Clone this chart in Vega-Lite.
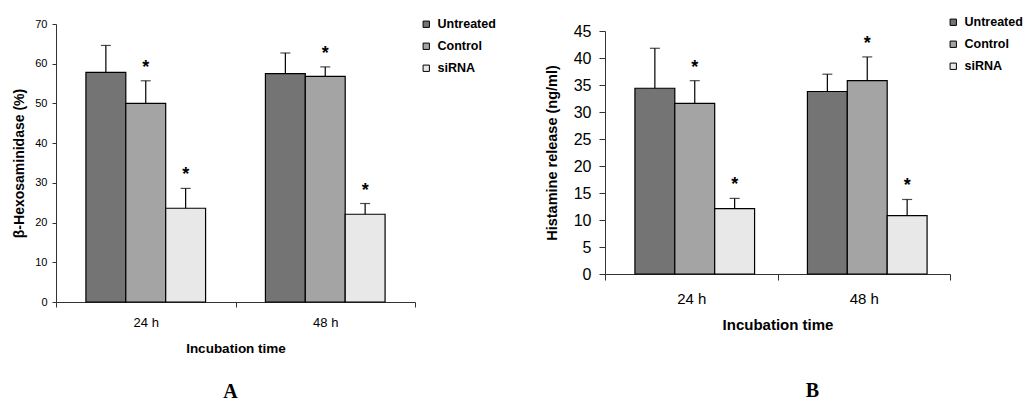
{
  "$schema": "https://vega.github.io/schema/vega-lite/v6.json",
  "padding": {"left": 12, "top": 16, "right": 0, "bottom": 0},
  "background": "white",
  "datasets": {
    "hexA": [
      {"time": "24 h", "group": "Untreated", "mean": 57.8, "hi": 64.6, "sig": false},
      {"time": "24 h", "group": "Control", "mean": 50.0, "hi": 55.7, "sig": true},
      {"time": "24 h", "group": "siRNA", "mean": 23.6, "hi": 28.6, "sig": true},
      {"time": "48 h", "group": "Untreated", "mean": 57.5, "hi": 62.7, "sig": false},
      {"time": "48 h", "group": "Control", "mean": 56.8, "hi": 59.2, "sig": true},
      {"time": "48 h", "group": "siRNA", "mean": 22.1, "hi": 24.8, "sig": true}
    ],
    "histB": [
      {"time": "24 h", "group": "Untreated", "mean": 34.4, "hi": 41.8, "sig": false},
      {"time": "24 h", "group": "Control", "mean": 31.6, "hi": 35.8, "sig": true},
      {"time": "24 h", "group": "siRNA", "mean": 12.1, "hi": 14.0, "sig": true},
      {"time": "48 h", "group": "Untreated", "mean": 33.8, "hi": 37.0, "sig": false},
      {"time": "48 h", "group": "Control", "mean": 35.8, "hi": 40.2, "sig": true},
      {"time": "48 h", "group": "siRNA", "mean": 10.8, "hi": 13.8, "sig": true}
    ]
  },
  "hconcat": [
    {
      "width": 359,
      "height": 278,
      "data": {"name": "hexA"},
      "title": {"text": "A", "orient": "bottom", "frame": "group", "font": "Liberation Serif", "fontSize": 20, "fontWeight": "bold", "offset": 27, "dx": -5, "color": "black"},
      "encoding": {
        "x": {
          "field": "time", "type": "nominal",
          "scale": {"paddingInner": 0, "paddingOuter": 0},
          "axis": {"title": "Incubation time", "labelAngle": 0, "tickBand": "extent", "tickSize": 5, "labelPadding": 9, "labelFontSize": 13, "labelColor": "black", "titleFontSize": 13.5, "titleFontWeight": "bold", "titlePadding": 12, "titleColor": "black", "domainColor": "#333", "tickColor": "#333"}
        },
        "xOffset": {"field": "group", "type": "nominal", "sort": ["Untreated", "Control", "siRNA"], "scale": {"paddingInner": 0, "paddingOuter": 0.75}}
      },
      "layer": [
        {
          "mark": {"type": "bar", "stroke": "black", "strokeWidth": 1.2},
          "encoding": {
            "y": {"field": "mean", "type": "quantitative", "scale": {"domain": [0, 70]},
              "axis": {"title": "β-Hexosaminidase (%)", "values": [0, 10, 20, 30, 40, 50, 60, 70], "labelOverlap": false, "grid": false, "tickSize": 4, "labelPadding": 5, "labelFontSize": 11, "labelColor": "black", "titleFontSize": 14, "titleFontWeight": "bold", "titleColor": "black", "titlePadding": 8, "domainColor": "#333", "tickColor": "#333"}},
            "fill": {"field": "group", "type": "nominal",
              "scale": {"domain": ["Untreated", "Control", "siRNA"], "range": ["#747474", "#a4a4a4", "#e8e8e8"]},
              "legend": {"title": null, "orient": "none", "legendX": 364, "legendY": -6, "padding": 0, "symbolType": "square", "symbolSize": 40, "symbolStrokeColor": "black", "symbolStrokeWidth": 1, "labelFontSize": 12.5, "labelFontWeight": "bold", "labelColor": "black", "labelOffset": 5, "rowPadding": 9}}
          }
        },
        {
          "mark": {"type": "rule", "color": "black", "strokeWidth": 1.2},
          "encoding": {"y": {"field": "mean", "type": "quantitative",
            "axis": {"title": "β-Hexosaminidase (%)", "values": [0, 10, 20, 30, 40, 50, 60, 70], "labelOverlap": false, "grid": false, "tickSize": 4, "labelPadding": 5, "labelFontSize": 11, "labelColor": "black", "titleFontSize": 14, "titleFontWeight": "bold", "titleColor": "black", "titlePadding": 8, "domainColor": "#333", "tickColor": "#333"}}, "y2": {"field": "hi"}}
        },
        {
          "mark": {"type": "tick", "color": "black", "thickness": 1.2, "size": 10},
          "encoding": {"y": {"field": "hi", "type": "quantitative",
            "axis": {"title": "β-Hexosaminidase (%)", "values": [0, 10, 20, 30, 40, 50, 60, 70], "labelOverlap": false, "grid": false, "tickSize": 4, "labelPadding": 5, "labelFontSize": 11, "labelColor": "black", "titleFontSize": 14, "titleFontWeight": "bold", "titleColor": "black", "titlePadding": 8, "domainColor": "#333", "tickColor": "#333"}}}
        },
        {
          "transform": [{"filter": "datum.sig"}],
          "mark": {"type": "text", "text": "*", "fontSize": 18, "fontWeight": "bold", "baseline": "alphabetic", "dy": -8, "color": "black"},
          "encoding": {"y": {"field": "hi", "type": "quantitative",
            "axis": {"title": "β-Hexosaminidase (%)", "values": [0, 10, 20, 30, 40, 50, 60, 70], "labelOverlap": false, "grid": false, "tickSize": 4, "labelPadding": 5, "labelFontSize": 11, "labelColor": "black", "titleFontSize": 14, "titleFontWeight": "bold", "titleColor": "black", "titlePadding": 8, "domainColor": "#333", "tickColor": "#333"}}}
        }
      ]
    },
    {
      "width": 345,
      "height": 250,
      "data": {"name": "histB"},
      "title": {"text": "B", "orient": "bottom", "frame": "group", "font": "Liberation Serif", "fontSize": 20, "fontWeight": "bold", "offset": 49, "dx": 35, "color": "black"},
      "encoding": {
        "x": {
          "field": "time", "type": "nominal",
          "scale": {"paddingInner": 0, "paddingOuter": 0},
          "axis": {"title": "Incubation time", "labelAngle": 0, "tickBand": "extent", "tickSize": 6, "labelPadding": 11, "labelFontSize": 15, "labelColor": "black", "titleFontSize": 15, "titleFontWeight": "bold", "titlePadding": 11, "titleColor": "black", "domainColor": "#333", "tickColor": "#333"}
        },
        "xOffset": {"field": "group", "type": "nominal", "sort": ["Untreated", "Control", "siRNA"], "scale": {"paddingInner": 0, "paddingOuter": 0.75}}
      },
      "layer": [
        {
          "mark": {"type": "bar", "stroke": "black", "strokeWidth": 1.2},
          "encoding": {
            "y": {"field": "mean", "type": "quantitative", "scale": {"domain": [0, 45], "range": [250, 7]},
              "axis": {"title": "Histamine release (ng/ml)", "values": [0, 5, 10, 15, 20, 25, 30, 35, 40, 45], "labelOverlap": false, "grid": false, "tickSize": 6, "labelPadding": 8, "labelFontSize": 16, "labelColor": "black", "titleFontSize": 14.5, "titleFontWeight": "bold", "titleColor": "black", "titlePadding": 14, "domainColor": "#333", "tickColor": "#333"}},
            "fill": {"field": "group", "type": "nominal",
              "scale": {"domain": ["Untreated", "Control", "siRNA"], "range": ["#747474", "#a4a4a4", "#e8e8e8"]},
              "legend": {"title": null, "orient": "none", "legendX": 342, "legendY": -8, "padding": 0, "symbolType": "square", "symbolSize": 40, "symbolStrokeColor": "black", "symbolStrokeWidth": 1, "labelFontSize": 12.5, "labelFontWeight": "bold", "labelColor": "black", "labelOffset": 5, "rowPadding": 9}}
          }
        },
        {
          "mark": {"type": "rule", "color": "black", "strokeWidth": 1.2},
          "encoding": {"y": {"field": "mean", "type": "quantitative",
            "axis": {"title": "Histamine release (ng/ml)", "values": [0, 5, 10, 15, 20, 25, 30, 35, 40, 45], "labelOverlap": false, "grid": false, "tickSize": 6, "labelPadding": 8, "labelFontSize": 16, "labelColor": "black", "titleFontSize": 14.5, "titleFontWeight": "bold", "titleColor": "black", "titlePadding": 14, "domainColor": "#333", "tickColor": "#333"}}, "y2": {"field": "hi"}}
        },
        {
          "mark": {"type": "tick", "color": "black", "thickness": 1.2, "size": 10},
          "encoding": {"y": {"field": "hi", "type": "quantitative",
            "axis": {"title": "Histamine release (ng/ml)", "values": [0, 5, 10, 15, 20, 25, 30, 35, 40, 45], "labelOverlap": false, "grid": false, "tickSize": 6, "labelPadding": 8, "labelFontSize": 16, "labelColor": "black", "titleFontSize": 14.5, "titleFontWeight": "bold", "titleColor": "black", "titlePadding": 14, "domainColor": "#333", "tickColor": "#333"}}}
        },
        {
          "transform": [{"filter": "datum.sig"}],
          "mark": {"type": "text", "text": "*", "fontSize": 18, "fontWeight": "bold", "baseline": "alphabetic", "dy": -8, "color": "black"},
          "encoding": {"y": {"field": "hi", "type": "quantitative",
            "axis": {"title": "Histamine release (ng/ml)", "values": [0, 5, 10, 15, 20, 25, 30, 35, 40, 45], "labelOverlap": false, "grid": false, "tickSize": 6, "labelPadding": 8, "labelFontSize": 16, "labelColor": "black", "titleFontSize": 14.5, "titleFontWeight": "bold", "titleColor": "black", "titlePadding": 14, "domainColor": "#333", "tickColor": "#333"}}}
        }
      ]
    }
  ],
  "spacing": 48,
  "resolve": {"scale": {"fill": "independent"}, "legend": {"fill": "independent"}},
  "config": {
    "font": "Liberation Sans",
    "view": {"stroke": null},
    "axis": {"labelFont": "Liberation Sans", "titleFont": "Liberation Sans"},
    "legend": {"labelFont": "Liberation Sans"}
  }
}
